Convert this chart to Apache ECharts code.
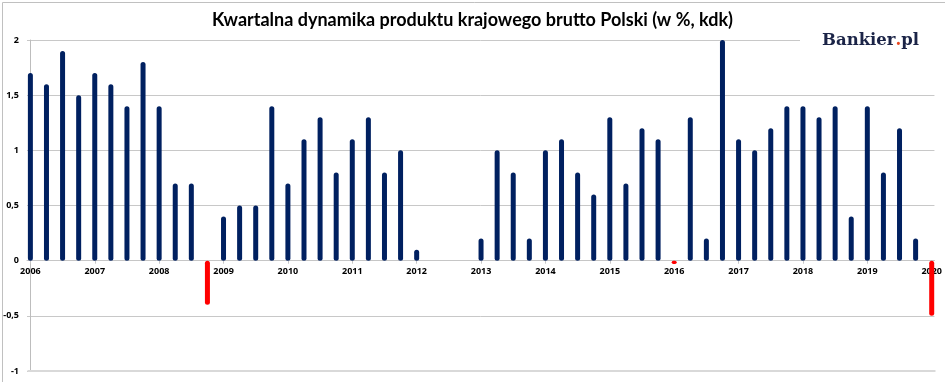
<!DOCTYPE html>
<html>
<head>
<meta charset="utf-8">
<script src="https://cdn.jsdelivr.net/npm/echarts@6/dist/echarts.min.js"></script>
<style>
html,body{margin:0;padding:0;background:#fff;}
#chart{width:945px;height:382px;}
</style>
</head>
<body>
<div id="chart"></div>
<script>
// Quarterly GDP dynamics (q/q, %), 2006 Q1 .. 2020 Q1
const years = ['2006','2007','2008','2009','2010','2011','2012','2013','2014','2015','2016','2017','2018','2019','2020'];
const values = [
  1.7, 1.6, 1.9, 1.5,   // 2006
  1.7, 1.6, 1.4, 1.8,   // 2007
  1.4, 0.7, 0.7, -0.4,  // 2008
  0.4, 0.5, 0.5, 1.4,   // 2009
  0.7, 1.1, 1.3, 0.8,   // 2010
  1.1, 1.3, 0.8, 1.0,   // 2011
  0.1, 0.0, 0.0, 0.0,   // 2012
  0.2, 1.0, 0.8, 0.2,   // 2013
  1.0, 1.1, 0.8, 0.6,   // 2014
  1.3, 0.7, 1.2, 1.1,   // 2015
  -0.03, 1.3, 0.2, 2.0, // 2016
  1.1, 1.0, 1.2, 1.4,   // 2017
  1.4, 1.3, 1.4, 0.4,   // 2018
  1.4, 0.8, 1.2, 0.2,   // 2019
  -0.5                  // 2020
];
const yTicks = [-1, -0.5, 0, 0.5, 1, 1.5, 2];

const yearPositions = years.map((y, i) => i * 4);
const barData = values.map((v, i) => ({
  value: [i, v],
  itemStyle: { color: v < 0 ? '#ff0000' : '#002060', opacity: v === 0 ? 0 : 1 }
}));

const gridTop = 40, gridBottom = 11, chartH = 382;
const yMin = -1, yMax = 2;
// shift the category axis up so it sits on the zero line
const plotH = chartH - gridTop - gridBottom;
const zeroOffset = -plotH * (0 - yMin) / (yMax - yMin);

const chart = echarts.init(document.getElementById('chart'), null, { renderer: 'canvas' });
chart.setOption({
  animation: false,
  backgroundColor: '#ffffff',
  title: {
    text: 'Kwartalna dynamika produktu krajowego brutto Polski (w %, kdk)',
    left: 'center',
    top: 6,
    textStyle: { fontFamily: 'Lato, sans-serif', fontSize: 18, fontWeight: 'bold', color: '#000' }
  },
  grid: { left: 27, right: 9, top: gridTop, bottom: gridBottom, containLabel: false },
  xAxis: {
    type: 'value',
    min: -0.21,
    max: 56.17,
    position: 'bottom',
    offset: zeroOffset,
    splitLine: { show: false },
    axisLine: { show: true, onZero: false, lineStyle: { color: '#c6c6c6', width: 1 } },
    axisTick: { show: true, customValues: yearPositions, length: 3, inside: false, lineStyle: { color: '#c6c6c6' } },
    axisLabel: {
      customValues: yearPositions,
      formatter: v => years[Math.round(v / 4)],
      fontSize: 9, fontWeight: 'bold', color: '#000', margin: 6,
      fontFamily: '"Open Sans", sans-serif'
    }
  },
  yAxis: {
    type: 'value',
    min: yMin, max: yMax, interval: 0.5,
    axisLine: { show: true, lineStyle: { color: '#bdbdbd', width: 1 } },
    axisTick: { show: false },
    splitLine: { show: true, lineStyle: { color: '#c8c8c8', width: 1 } },
    axisLabel: {
      formatter: v => String(v).replace('.', ','),
      fontSize: 9, fontWeight: 'bold', color: '#000', margin: 8,
      fontFamily: '"Open Sans", sans-serif'
    }
  },
  series: [{
    type: 'bar',
    data: barData,
    barWidth: 5,
    itemStyle: { borderRadius: 2.5 },
    z: 5
  }],
  graphic: [
    { type: 'rect', left: 0, top: 0, shape: { width: 944, height: 381 }, style: { fill: 'none', stroke: '#c0c0c0', lineWidth: 1 }, z: 100, silent: true },
    { type: 'rect', shape: { x: 27.5, y: 370, width: 908, height: 2 }, style: { fill: '#d9d9d9' }, z: 10 },
    { type: 'rect', shape: { x: 800, y: 30, width: 136, height: 26 }, style: { fill: '#ffffff' }, z: 10 },
    { type: 'text', left: 822, top: 32, z: 11,
      style: { text: '{a|Bankier}{b|.}{a|pl}', rich: {
        a: { fontFamily: '"DejaVu Serif", "Liberation Serif", serif', fontWeight: 'bold', fontSize: 16.5, fill: '#1b2447' },
        b: { fontFamily: '"DejaVu Serif", "Liberation Serif", serif', fontWeight: 'bold', fontSize: 16.5, fill: '#e8461e' }
      } } }
  ]
});
</script>
</body>
</html>
